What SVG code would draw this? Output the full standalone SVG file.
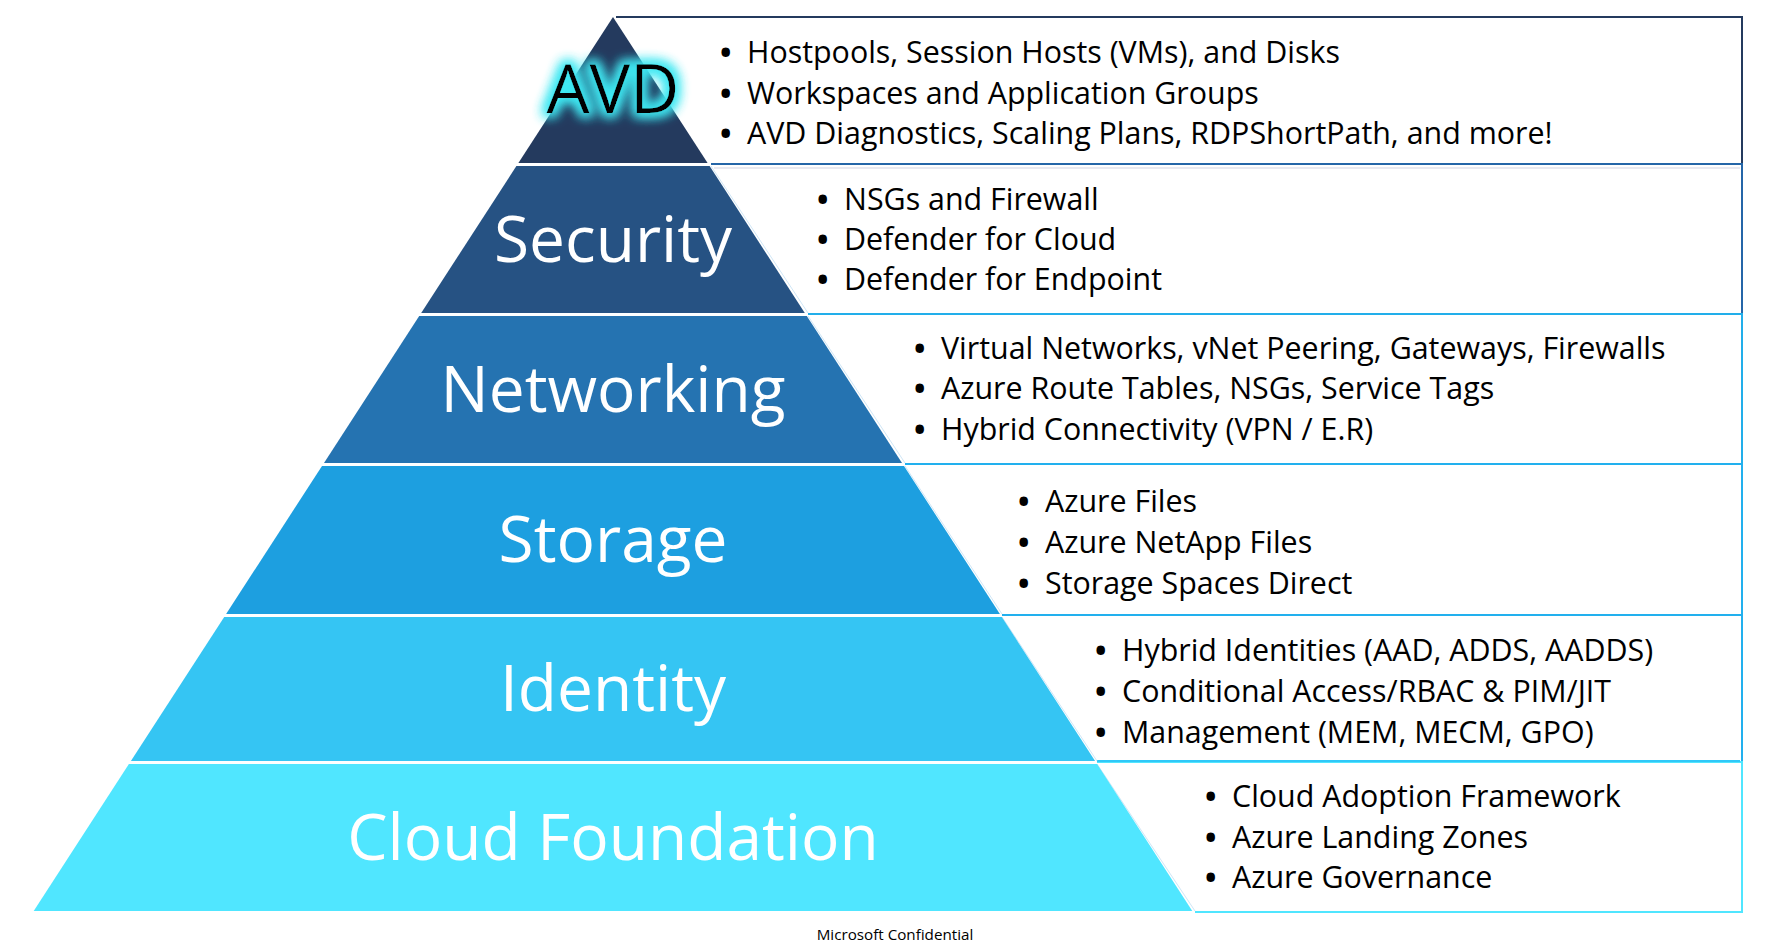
<svg xmlns="http://www.w3.org/2000/svg" width="1770" height="946" viewBox="0 0 1770 946">
<defs>
<style>
.lbl{font-family:"Open Sans","Noto Sans",sans-serif;font-size:64px;fill:#ffffff;text-anchor:middle}
.itm{font-family:"Open Sans","Noto Sans",sans-serif;font-size:30.4px;fill:#000000}
.b{font-weight:bold}
.box{fill:#ffffff;stroke-width:2}
.edge{stroke:#cfe6f6;stroke-width:1;fill:none}
.conf{font-family:"Open Sans","Noto Sans",sans-serif;font-size:15.2px;fill:#000000;text-anchor:middle}
</style>
<filter id="glow" x="-40%" y="-40%" width="180%" height="180%">
<feMorphology in="SourceAlpha" operator="dilate" radius="3" result="d"/>
<feGaussianBlur in="d" stdDeviation="6" result="b"/>
<feFlood flood-color="#3fe8f2" flood-opacity="1"/>
<feComposite in2="b" operator="in" result="g"/>
<feMerge><feMergeNode in="g"/><feMergeNode in="g"/><feMergeNode in="SourceGraphic"/></feMerge>
</filter>
</defs>
<rect width="1770" height="946" fill="#ffffff"/>

<!-- text boxes -->
<g id="boxes">
<polygon class="box" points="616,17 1742,17 1742,164 711,164" fill="#fff" stroke="none"/>
<polyline points="616,17 1742,17 1742,164" fill="none" stroke="#243a5e" stroke-width="2"/>
<polygon points="711,164 1742,164 1742,314 806,314" fill="#fff"/>
<polyline points="711,164 1742,164 1742,314" fill="none" stroke="#2566a8" stroke-width="2"/>
<line x1="714" y1="168" x2="1740" y2="168" stroke="#e9e9f0" stroke-width="2"/>
<polyline points="808,314 1742,314 1742,464" fill="none" stroke="#22aeea" stroke-width="2"/>
<polyline points="905,464 1742,464 1742,615" fill="none" stroke="#22b0ee" stroke-width="2"/>
<polyline points="1002,615 1742,615 1742,762" fill="none" stroke="#22b0ee" stroke-width="2"/>
<polyline points="1097,762 1742,762 1742,912 1195,912" fill="none" stroke="#50e6ff" stroke-width="2"/>
<line x1="1097" y1="761" x2="1740" y2="761" stroke="#30c8f8" stroke-width="2"/>
<line x1="711" y1="166" x2="808" y2="313" class="edge"/>
<line x1="808" y1="316" x2="905" y2="463" class="edge"/>
<line x1="905" y1="466" x2="1002" y2="614" class="edge"/>
<line x1="1002" y1="617" x2="1097" y2="761" class="edge"/>
<line x1="1097" y1="764" x2="1195" y2="911" class="edge"/>
</g>

<!-- pyramid tiers -->
<g id="tier-avd">
<polygon points="613,17 707.6,163 518.4,163" fill="#243a5e"/>
<text x="613" y="113" font-family="'Open Sans','Noto Sans',sans-serif" font-size="68" fill="#000000" text-anchor="middle" filter="url(#glow)">AVD</text>
</g>
<g id="tier-security">
<polygon points="516.4,166 709.6,166 804.8,313 421.2,313" fill="#265283"/>
<text class="lbl" x="613" y="262">Security</text>
</g>
<g id="tier-networking">
<polygon points="419.2,316 806.8,316 902,463 324,463" fill="#2573b1"/>
<text class="lbl" x="613" y="412">Networking</text>
</g>
<g id="tier-storage">
<polygon points="322,466 904,466 999.9,614 226.1,614" fill="#1d9fe0"/>
<text class="lbl" x="613" y="562">Storage</text>
</g>
<g id="tier-identity">
<polygon points="224.2,617 1001.8,617 1095.1,761 130.9,761" fill="#35c5f3"/>
<text class="lbl" x="613" y="711">Identity</text>
</g>
<g id="tier-cloud">
<polygon points="128.9,764 1097.1,764 1192.3,911 33.7,911" fill="#50e6ff"/>
<text class="lbl" x="613" y="860">Cloud Foundation</text>
</g>

<!-- bullet lists -->
<g id="list-avd">
<text class="itm" y="63"><tspan class="b" x="720">•</tspan><tspan x="747">Hostpools, Session Hosts (VMs), and Disks</tspan></text>
<text class="itm" y="104"><tspan class="b" x="720">•</tspan><tspan x="747">Workspaces and Application Groups</tspan></text>
<text class="itm" y="144"><tspan class="b" x="720">•</tspan><tspan x="747">AVD Diagnostics, Scaling Plans, RDPShortPath, and more!</tspan></text>
</g>
<g id="list-security">
<text class="itm" y="210"><tspan class="b" x="817">•</tspan><tspan x="844">NSGs and Firewall</tspan></text>
<text class="itm" y="250"><tspan class="b" x="817">•</tspan><tspan x="844">Defender for Cloud</tspan></text>
<text class="itm" y="290"><tspan class="b" x="817">•</tspan><tspan x="844">Defender for Endpoint</tspan></text>
</g>
<g id="list-networking">
<text class="itm" y="359"><tspan class="b" x="914">•</tspan><tspan x="941">Virtual Networks, vNet Peering, Gateways, Firewalls</tspan></text>
<text class="itm" y="399"><tspan class="b" x="914">•</tspan><tspan x="941">Azure Route Tables, NSGs, Service Tags</tspan></text>
<text class="itm" y="440"><tspan class="b" x="914">•</tspan><tspan x="941">Hybrid Connectivity (VPN / E.R)</tspan></text>
</g>
<g id="list-storage">
<text class="itm" y="512"><tspan class="b" x="1018">•</tspan><tspan x="1045">Azure Files</tspan></text>
<text class="itm" y="553"><tspan class="b" x="1018">•</tspan><tspan x="1045">Azure NetApp Files</tspan></text>
<text class="itm" y="594"><tspan class="b" x="1018">•</tspan><tspan x="1045">Storage Spaces Direct</tspan></text>
</g>
<g id="list-identity">
<text class="itm" y="661"><tspan class="b" x="1095">•</tspan><tspan x="1122">Hybrid Identities (AAD, ADDS, AADDS)</tspan></text>
<text class="itm" y="702"><tspan class="b" x="1095">•</tspan><tspan x="1122">Conditional Access/RBAC &amp; PIM/JIT</tspan></text>
<text class="itm" y="743"><tspan class="b" x="1095">•</tspan><tspan x="1122">Management (MEM, MECM, GPO)</tspan></text>
</g>
<g id="list-cloud">
<text class="itm" y="807"><tspan class="b" x="1205">•</tspan><tspan x="1232">Cloud Adoption Framework</tspan></text>
<text class="itm" y="848"><tspan class="b" x="1205">•</tspan><tspan x="1232">Azure Landing Zones</tspan></text>
<text class="itm" y="888"><tspan class="b" x="1205">•</tspan><tspan x="1232">Azure Governance</tspan></text>
</g>

<text class="conf" x="895" y="940">Microsoft Confidential</text>
</svg>
